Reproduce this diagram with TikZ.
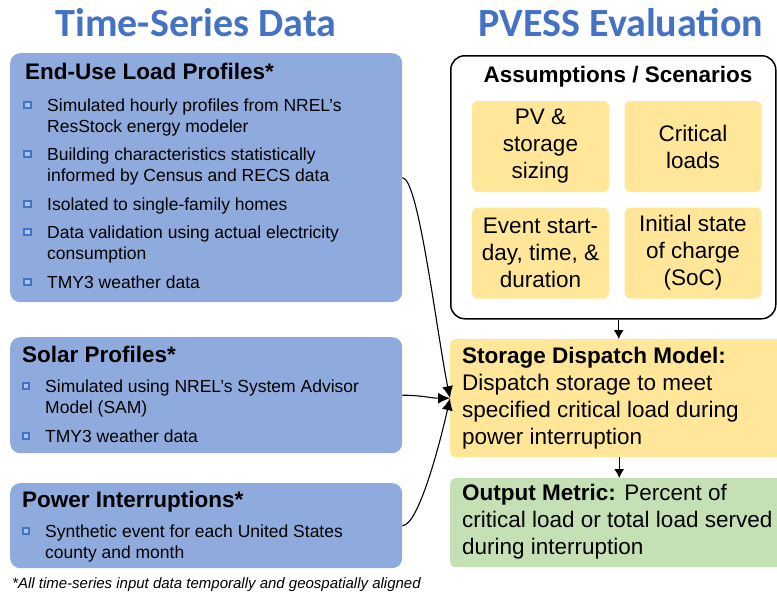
\documentclass[tikz,border=0pt]{standalone}
\usepackage{fontspec}
\setmainfont{Liberation Sans}
\newfontfamily\titlefont{Carlito}
\usepackage{xcolor}
\usetikzlibrary{arrows.meta}
\usetikzlibrary{positioning}

\definecolor{hdrblue}{HTML}{4472C4}
\definecolor{boxblue}{HTML}{8FAADC}
\definecolor{boxyellow}{HTML}{FFE699}
\definecolor{boxgreen}{HTML}{C5E0B4}

\begin{document}
\begin{tikzpicture}[x=1pt,y=-1pt,
  bluebox/.style={fill=boxblue, rounded corners=10pt, anchor=north west, inner sep=0pt},
  yelbox/.style={fill=boxyellow, rounded corners=6pt, minimum width=137pt, minimum height=91pt, inner sep=0pt, align=center, font=\fontsize{22.5}{27}\selectfont},
  bullet/.style={draw=hdrblue, fill=boxblue!70!white, line width=1.8pt, minimum size=6.5pt, inner sep=0pt},
  itemtxt/.style={anchor=base west, inner sep=0pt, align=left, font=\fontsize{17.5}{21}\selectfont},
  hdrtxt/.style={anchor=base west, inner sep=0pt, font=\fontsize{22.5}{27}\selectfont\bfseries},
  bigtxt/.style={anchor=base west, inner sep=0pt, align=left, font=\fontsize{22.5}{27}\selectfont},
  title/.style={anchor=base, inner sep=0pt, text=hdrblue, font=\titlefont\fontsize{40}{44}\selectfont\bfseries},
  feed/.style={line width=1.1pt, -{Latex[length=12pt,width=11pt]}},
  flow/.style={line width=1.1pt, -{Latex[length=9pt,width=10pt]}}]
\useasboundingbox (0,0) rectangle (777,595);
\clip (0,0) rectangle (777,595);

% column titles
\node[title] (tsd) at (196,36) {Time-Series Data};
\node[title] (pve) at (621,36) {PVESS Evaluation};

% input data boxes (text nodes sit on the baseline of their last line)
\node[bluebox, minimum width=392pt, minimum height=249pt] (enduse) at (10,53) {};
\node[hdrtxt] (enduseh) at (25,79) {End-Use Load Profiles*};
\node[bullet] at (27.5,105) {};\node[itemtxt] at (47,132) {Simulated hourly profiles from NREL’s\\ResStock energy modeler};
\node[bullet] at (27.5,154) {};\node[itemtxt] at (47,181) {Building characteristics statistically\\informed by Census and RECS data};
\node[bullet] at (27.5,204) {};\node[itemtxt] at (47,210) {Isolated to single-family homes};
\node[bullet] at (27.5,232) {};\node[itemtxt] at (47,259) {Data validation using actual electricity\\consumption};
\node[bullet] at (27.5,282) {};\node[itemtxt] at (47,288) {TMY3 weather data};

\node[bluebox, minimum width=392pt, minimum height=116pt] (solar) at (10,337) {};
\node[hdrtxt] (solarh) at (22,362) {Solar Profiles*};
\node[bullet] at (26,386) {};\node[itemtxt] at (45,413) {Simulated using NREL’s System Advisor\\Model (SAM)};
\node[bullet] at (26,436) {};\node[itemtxt] at (45,442) {TMY3 weather data};

\node[bluebox, minimum width=392pt, minimum height=85pt] (outage) at (10,483) {};
\node[hdrtxt] (outageh) at (22,507) {Power Interruptions*};
\node[bullet] at (26,531) {};\node[itemtxt] at (45,558) {Synthetic event for each United States\\county and month};

\node[anchor=base west, inner sep=0pt, font=\fontsize{15}{18}\selectfont\itshape] (note) at (12,588) {*All time-series input data temporally and geospatially aligned};

% assumptions
\node[draw, line width=1.5pt, rounded corners=14pt, minimum width=325pt, minimum height=263pt, anchor=north west, inner sep=0pt] (assume) at (450,55) {};
\node[anchor=base, inner sep=0pt, font=\fontsize{22.5}{27}\selectfont\bfseries] (assumeh) at (618,82) {Assumptions / Scenarios};
\node[yelbox] (pvsize) at (540.5,146.5) {PV \&\\storage\\sizing};
\node[yelbox] (critical) at (693,146.5) {Critical\\loads};
\node[yelbox] (event) at (540.5,253) {Event start-\\day, time, \&\\duration};
\node[yelbox] (soc) at (693,253) {Initial state\\of charge\\(SoC)};

% model and output
\node[fill=boxyellow, rounded corners=5pt, minimum width=340pt, minimum height=118pt, anchor=north west, inner sep=0pt] (dispatch) at (450,339) {};
\node[bigtxt] (dispatcht) at (462,444) {\textbf{Storage Dispatch Model:}\\Dispatch storage to meet\\specified critical load during\\power interruption};
\node[fill=boxgreen, rounded corners=5pt, minimum width=340pt, minimum height=89pt, anchor=north west, inner sep=0pt] (output) at (450,478) {};
\node[bigtxt] (outputt) at (462,554) {\textbf{Output Metric:} Percent of\\critical load or total load served\\during interruption};

% connectors
\draw[flow] ([xshift=5.5pt]assume.south) -- ([xshift=5.5pt]assume.south |- dispatch.north);
\draw[flow] ([xshift=-1pt]dispatch.south) -- ([xshift=-1pt]dispatch.south |- output.north);
\draw[feed] (enduse.east) .. controls +(16,0) and +(-14,-70) .. (dispatch.west);
\draw[feed] (solar.east) to[out=0,in=180] (dispatch.west);
\draw[feed] (outage.east) .. controls +(16,0) and +(-10,45) .. (dispatch.west);

\end{tikzpicture}
\end{document}
